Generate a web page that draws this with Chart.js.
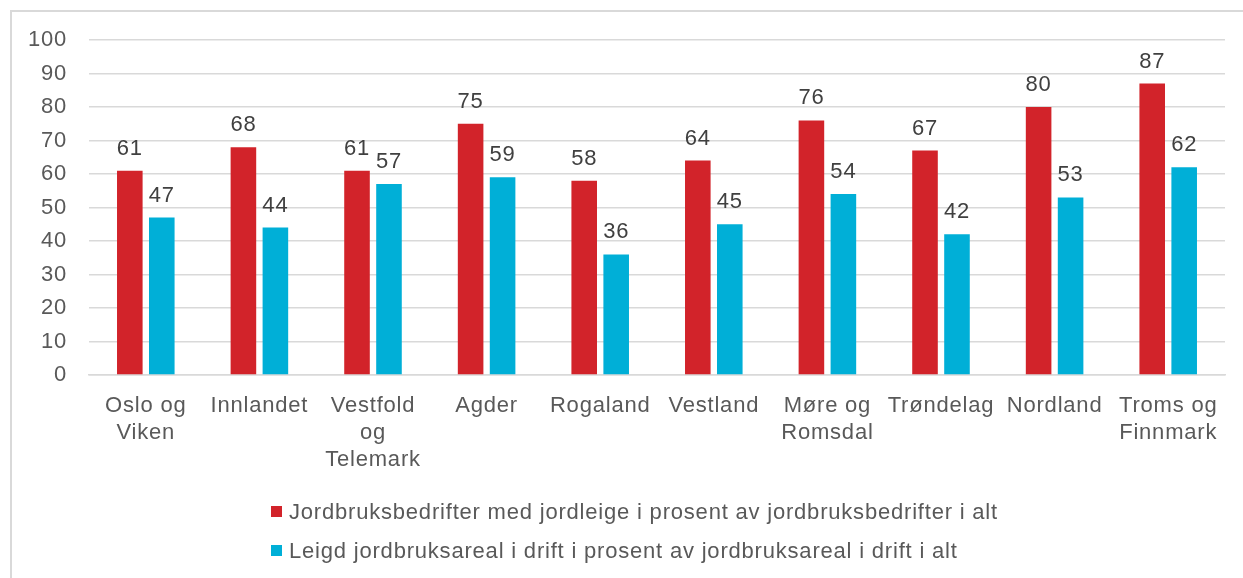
<!DOCTYPE html>
<html>
<head>
<meta charset="utf-8">
<script src="https://cdn.jsdelivr.net/npm/chart.js@4"></script>
<style>
  body { margin: 0; background: #fff; font-family: "Liberation Sans", Arial, sans-serif; }
  #wrap { position: relative; width: 1243px; height: 578px; overflow: hidden; }
  #frame { position: absolute; left: 10px; top: 10px; width: 1260px; height: 600px; border: 2px solid #d9d9d9; box-sizing: border-box; }
  canvas { position: absolute; left: 0; top: 0; }
  #legend { position: absolute; left: 271px; top: 492px; color: #595959; font-size: 22px; letter-spacing: 0.8px; }
  .item { height: 39px; display: flex; align-items: center; white-space: nowrap; }
  .box { width: 11px; height: 11px; margin-right: 7px; }
</style>
</head>
<body>
<div id="wrap">
  <div id="frame"></div>
  <canvas id="chart" width="1243" height="578"></canvas>
  <div id="legend"></div>
</div>
<script>
const regions = [
  ['Oslo og', 'Viken'],
  'Innlandet',
  ['Vestfold', 'og', 'Telemark'],
  'Agder',
  'Rogaland',
  'Vestland',
  ['Møre og', 'Romsdal'],
  'Trøndelag',
  'Nordland',
  ['Troms og', 'Finnmark']
];
const farmsWithLease = [61, 68, 61, 75, 58, 64, 76, 67, 80, 87];
const leasedArea = [47, 44, 57, 59, 36, 45, 54, 42, 53, 62];
const seriesNames = [
  'Jordbruksbedrifter med jordleige i prosent av jordbruksbedrifter i alt',
  'Leigd jordbruksareal i drift i prosent av jordbruksareal i drift i alt'
];

const RED = '#D2232A';
const BLUE = '#00AFD7';
const FONT = '"Liberation Sans", Arial, sans-serif';

// the original text is a little wider than Liberation Sans.
// canvas resize wipes the ctx state, so set it again before layout and draw
const wideText = {
  id: 'wideText',
  beforeUpdate(chart) { chart.ctx.letterSpacing = '0.8px'; },
  beforeDraw(chart) { chart.ctx.letterSpacing = '0.8px'; }
};

// values over the bars
const valueLabels = {
  id: 'valueLabels',
  afterDatasetsDraw(chart) {
    const ctx = chart.ctx;
    ctx.save();
    ctx.font = '22px ' + FONT;
    ctx.fillStyle = '#404040';
    ctx.textAlign = 'center';
    ctx.textBaseline = 'alphabetic';
    chart.data.datasets.forEach((ds, i) => {
      chart.getDatasetMeta(i).data.forEach((bar, j) => {
        ctx.fillText(ds.data[j], bar.x, bar.y - 16);
      });
    });
    ctx.restore();
  }
};

const chart = new Chart(document.getElementById('chart'), {
  type: 'bar',
  data: {
    labels: regions,
    datasets: [
      { label: seriesNames[0], data: farmsWithLease, backgroundColor: RED },
      { label: seriesNames[1], data: leasedArea, backgroundColor: BLUE }
    ]
  },
  options: {
    responsive: false,
    animation: false,
    categoryPercentage: 0.563,
    barPercentage: 0.8,
    layout: { padding: { top: 40, right: 18, left: 0, bottom: 0 } },
    plugins: {
      legend: { display: false },
      tooltip: { enabled: false }
    },
    scales: {
      x: {
        grid: { display: false, drawTicks: false },
        border: { color: '#d9d9d9', width: 1.5 },
        ticks: { color: '#595959', font: { family: FONT, size: 22, lineHeight: 1.22 }, padding: 18, maxRotation: 0, autoSkip: false },
        afterFit: s => { s.height = 203; }
      },
      y: {
        min: 0,
        max: 100,
        grid: { color: '#d9d9d9', lineWidth: 1.5, drawTicks: false },
        border: { display: false },
        ticks: { stepSize: 10, color: '#595959', font: { family: FONT, size: 22 }, padding: 22 },
        afterFit: s => { s.width = 89; }
      }
    }
  },
  plugins: [wideText, valueLabels]
});

// legend as html, left aligned rows
const legend = document.getElementById('legend');
chart.data.datasets.forEach(ds => {
  const row = document.createElement('div');
  row.className = 'item';
  row.innerHTML = '<span class="box" style="background:' + ds.backgroundColor + '"></span>' + ds.label;
  legend.appendChild(row);
});
</script>
</body>
</html>
